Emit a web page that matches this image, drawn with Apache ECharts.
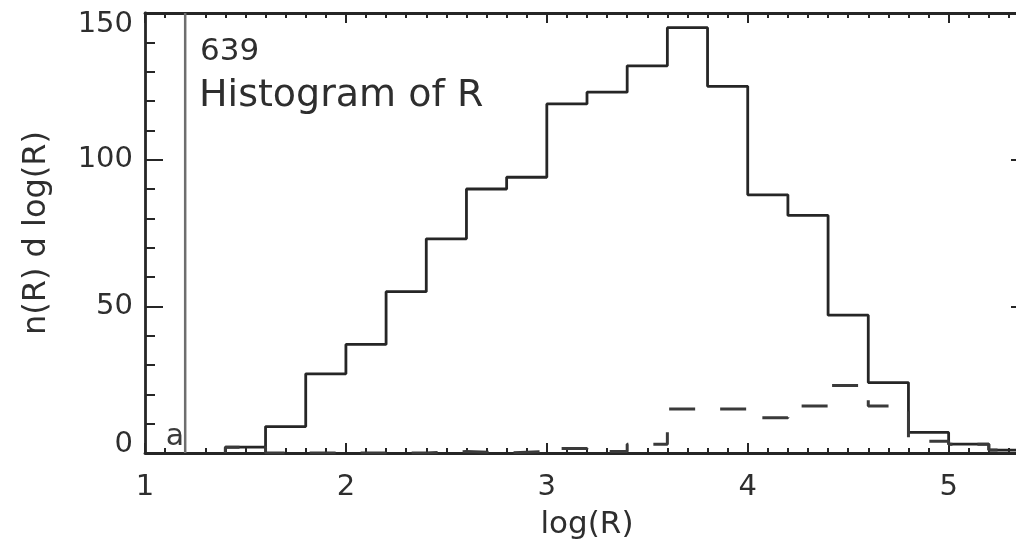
<!DOCTYPE html>
<html><head><meta charset="utf-8">
<script src="https://cdn.jsdelivr.net/npm/echarts@6/dist/echarts.min.js"></script>
<style>html,body{margin:0;padding:0;background:#fff}#c{width:1016px;height:552px}</style>
</head><body><div id="c"></div>
<script>
// ---- data ----
const binEdges = [1.4,1.6,1.8,2.0,2.2,2.4,2.6,2.8,3.0,3.2,3.4,3.6,3.8,4.0,4.2,4.4,4.6,4.8,5.0,5.2,5.4];
const allCounts = [2,9,27,37,55,73,90,94,119,123,132,145,125,88,81,47,24,7,3,1];
const subsetCounts = [2,0,0,0,0,0.5,0,0.5,1.5,0.5,3,15,15,12,16,23,16,4,3,1];
const markerX = 1.2;
const markerLabel = 'a';
const xTickLabels = [1,2,3,4,5];
const yTickLabels = [0,50,100,150];
const xRange = [1, 5.4];
const yRange = [0, 150];
const countText = '639';
const titleText = 'Histogram of R';
const xTitle = 'log(R)';
const yTitle = 'n(R) d log(R)';

function stepPoints(edges, vals){
  const pts = [[edges[0], 0]];
  vals.forEach((v,i)=>pts.push([edges[i], v]));
  pts.push([edges[edges.length-1], vals[vals.length-1]]);
  return pts;
}

const INK = '#262626';
const FONT = 'DejaVu Sans';
const axisLineStyle = {color: INK, width: 2.8};
const tickStyle = {color: INK, width: 2};

function xAx(pos, interval, len, opts){
  return Object.assign({
    type:'value', position: pos, min: xRange[0], max: xRange[1], interval: interval,
    axisLine:{show:false, onZero:false, lineStyle: axisLineStyle},
    axisTick:{show:true, inside:true, length:len, lineStyle: tickStyle},
    axisLabel:{show:false}, splitLine:{show:false}, minorTick:{show:false}
  }, opts||{});
}
function yAx(pos, interval, len, opts){
  return Object.assign({
    type:'value', position: pos, min: yRange[0], max: yRange[1], interval: interval,
    axisLine:{show:false, onZero:false, lineStyle: axisLineStyle},
    axisTick:{show:true, inside:true, length:len, lineStyle: tickStyle},
    axisLabel:{show:false}, splitLine:{show:false}, minorTick:{show:false}
  }, opts||{});
}

const chart = echarts.init(document.getElementById('c'), null, {renderer:'canvas'});
const lblFont = {fontFamily: FONT, fontSize: 29, color: '#2e2e2e'};
chart.setOption({
  animation:false,
  backgroundColor:'#fff',
  grid:{left:145, top:13, width:884, height:440, containLabel:false, outerBoundsMode:'none'},
  xAxis:[
    xAx('bottom', 0.1, 5, {
      axisLine:{show:true, onZero:false, lineStyle: axisLineStyle},
      axisLabel:Object.assign({show:true, customValues: xTickLabels, margin:20}, lblFont),
      name: xTitle, nameLocation:'middle', nameGap:56,
      nameTextStyle:{fontFamily:FONT, fontSize:31, color:'#2e2e2e'}
    }),
    xAx('bottom', 1, 10),
    xAx('top', 0.1, 5, {axisLine:{show:true, onZero:false, lineStyle: axisLineStyle}}),
    xAx('top', 1, 10)
  ],
  yAxis:[
    yAx('left', 10, 10, {
      axisLine:{show:true, onZero:false, lineStyle: axisLineStyle},
      axisLabel:{show:true, customValues: yTickLabels, margin:12,
        formatter: v => v === yRange[1] ? '{hi|'+v+'}' : (v === yRange[0] ? '{lo|'+v+'}' : '{n|'+v+'}'),
        rich:{
          hi:Object.assign({padding:[22,0,0,0]}, lblFont),
          lo:Object.assign({padding:[0,0,18,0]}, lblFont),
          n:Object.assign({}, lblFont)
        }},
      name: yTitle, nameLocation:'middle', nameGap:92, nameRotate:90,
      nameTextStyle:{fontFamily:FONT, fontSize:32, color:'#2e2e2e'}
    }),
    yAx('left', 50, 18),
    yAx('right', 10, 10, {axisLine:{show:true, onZero:false, lineStyle: axisLineStyle}}),
    yAx('right', 50, 18)
  ],
  series:[
    {type:'line', name:'marker', data:[[markerX, yRange[0]],[markerX, yRange[1]]],
     showSymbol:false, symbol:'none', lineStyle:{color:'#6e6e6e', width:2.5}, silent:true},
    {type:'line', name:'all', step:'end', data: stepPoints(binEdges, allCounts),
     showSymbol:false, symbol:'none', lineStyle:{color:INK, width:2.8}, silent:true},
    {type:'line', name:'subset', step:'end', data: stepPoints(binEdges, subsetCounts),
     showSymbol:false, symbol:'none', lineStyle:{color:'#3a3a3a', width:3, type:[26,25], dashOffset:6}, silent:true}
  ],
  graphic:[
    {type:'text', x:200, y:52, silent:true,
     style:{text: countText, fontFamily:FONT, fontSize:31, fill:'#2e2e2e', verticalAlign:'middle', align:'left'}},
    {type:'text', x:199, y:96, silent:true,
     style:{text: titleText, fontFamily:FONT, fontSize:38, fill:'#2e2e2e', verticalAlign:'middle', align:'left'}},
    {type:'text', x:175, y:437, silent:true,
     style:{text: markerLabel, fontFamily:FONT, fontSize:30, fill:'#3a3a3a', verticalAlign:'middle', align:'center'}}
  ]
});
</script>
</body></html>
